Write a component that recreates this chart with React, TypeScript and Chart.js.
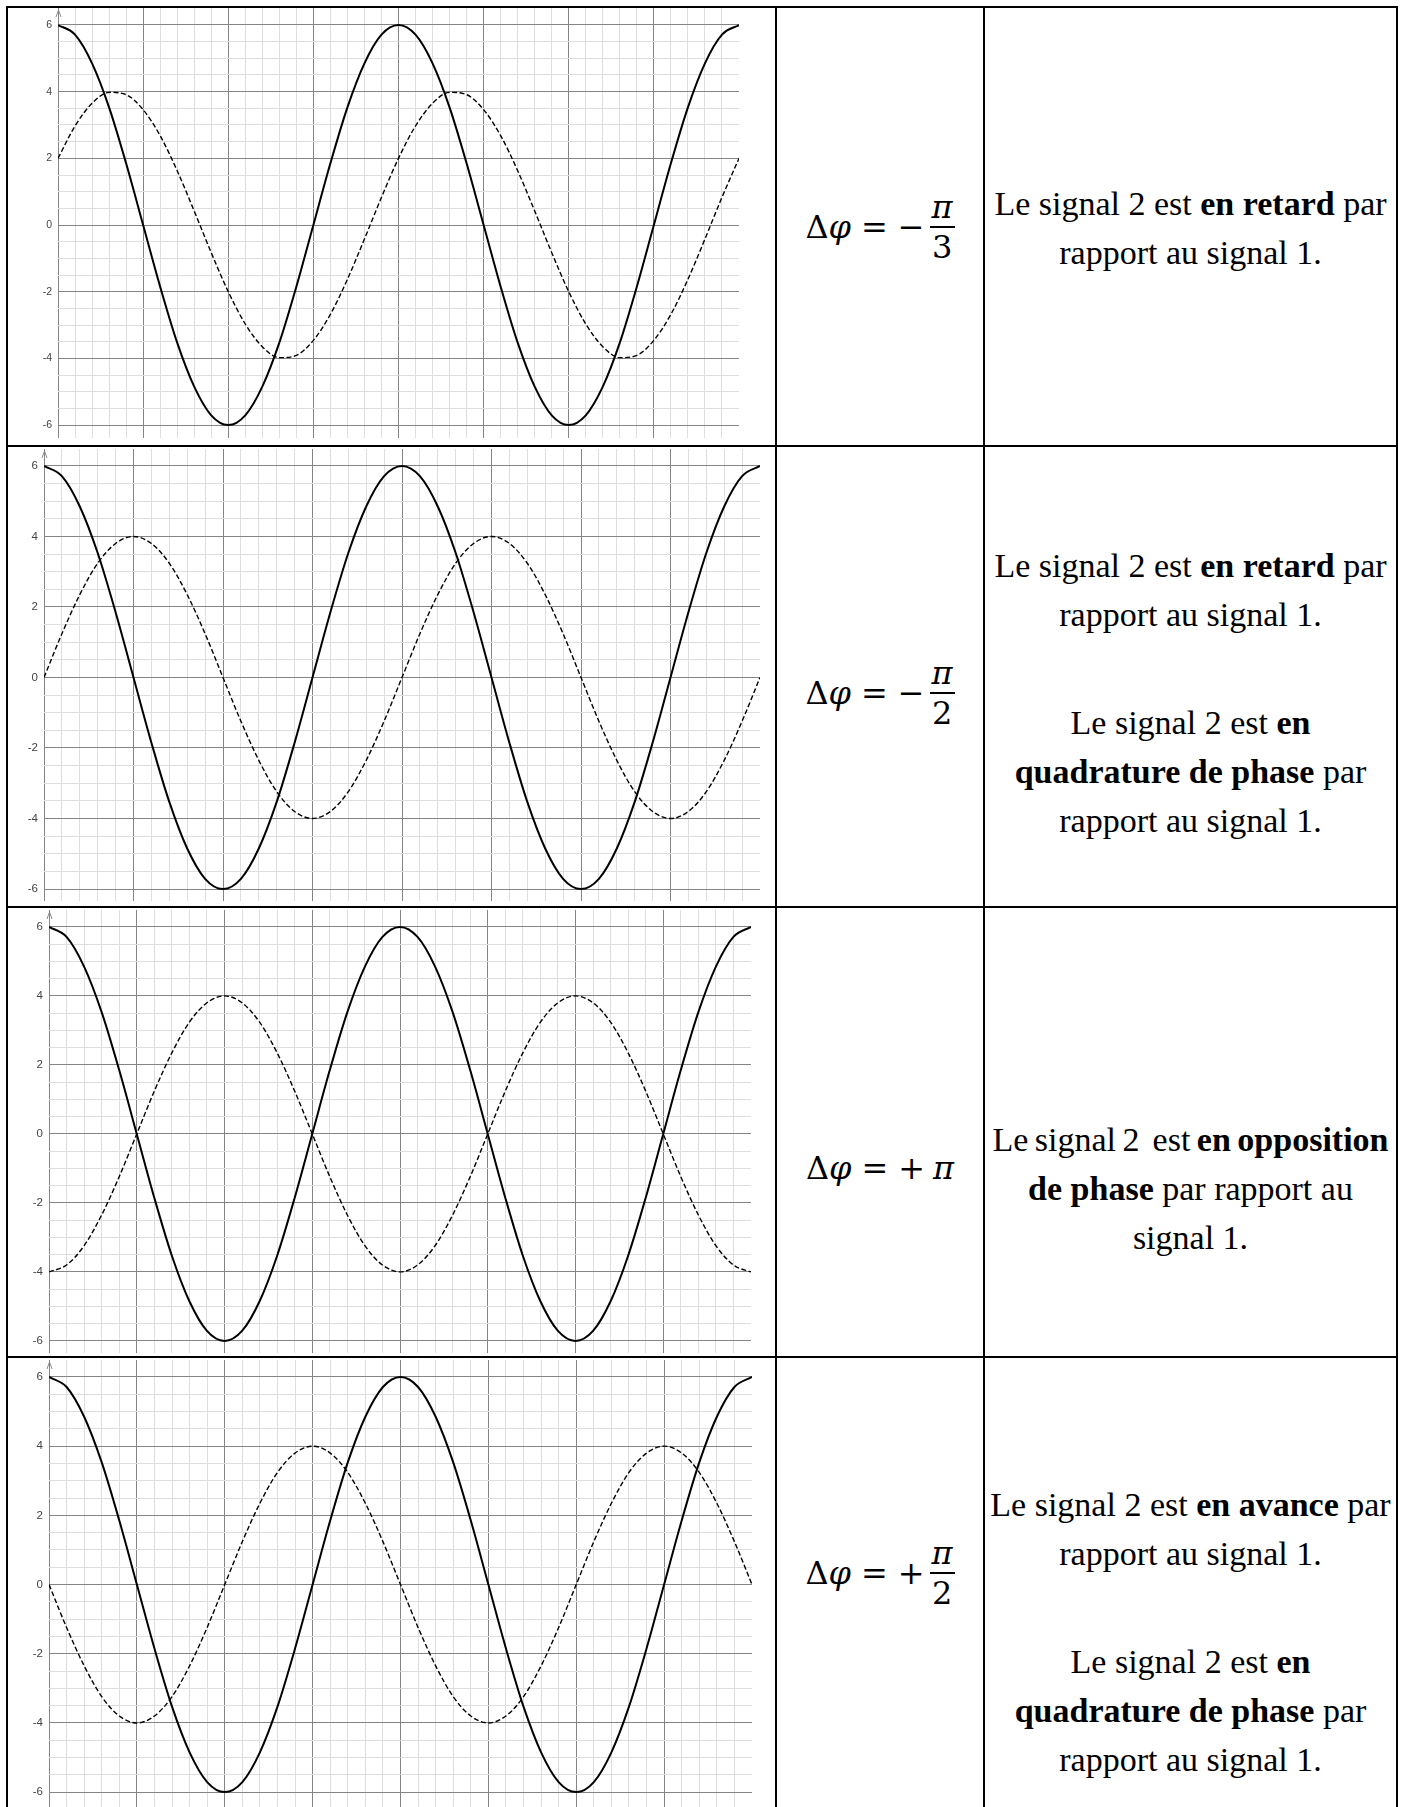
import React, { useEffect, useRef } from "react";
import { Chart, registerables } from "chart.js";

Chart.register(...registerables);

// Time axis samples (one period = 4 units, two periods shown)
const xSamples = [
  0, 0.2, 0.4, 0.6, 0.8, 1, 1.2, 1.4, 1.6, 1.8, 2, 2.2, 2.4, 2.6, 2.8, 3, 3.2, 3.4, 3.6, 3.8,
  4, 4.2, 4.4, 4.6, 4.8, 5, 5.2, 5.4, 5.6, 5.8, 6, 6.2, 6.4, 6.6, 6.8, 7, 7.2, 7.4, 7.6, 7.8, 8,
];

// Signal 1 (reference signal, amplitude 6)
const signal1 = [
  6, 5.71, 4.85, 3.53, 1.85, 0, -1.85, -3.53, -4.85, -5.71, -6, -5.71, -4.85, -3.53, -1.85, 0, 1.85, 3.53, 4.85, 5.71,
  6, 5.71, 4.85, 3.53, 1.85, 0, -1.85, -3.53, -4.85, -5.71, -6, -5.71, -4.85, -3.53, -1.85, 0, 1.85, 3.53, 4.85, 5.71, 6,
];

// Signal 2 (amplitude 4) for each phase difference
const signal2Retard60 = [
  2, 2.97, 3.65, 3.98, 3.91, 3.46, 2.68, 1.63, 0.42, -0.83, -2, -2.97, -3.65, -3.98, -3.91, -3.46, -2.68, -1.63, -0.42, 0.83,
  2, 2.97, 3.65, 3.98, 3.91, 3.46, 2.68, 1.63, 0.42, -0.83, -2, -2.97, -3.65, -3.98, -3.91, -3.46, -2.68, -1.63, -0.42, 0.83, 2,
];
const signal2Retard90 = [
  0, 1.24, 2.35, 3.24, 3.8, 4, 3.8, 3.24, 2.35, 1.24, 0, -1.24, -2.35, -3.24, -3.8, -4, -3.8, -3.24, -2.35, -1.24,
  0, 1.24, 2.35, 3.24, 3.8, 4, 3.8, 3.24, 2.35, 1.24, 0, -1.24, -2.35, -3.24, -3.8, -4, -3.8, -3.24, -2.35, -1.24, 0,
];
const signal2Opposition = [
  -4, -3.8, -3.24, -2.35, -1.24, 0, 1.24, 2.35, 3.24, 3.8, 4, 3.8, 3.24, 2.35, 1.24, 0, -1.24, -2.35, -3.24, -3.8,
  -4, -3.8, -3.24, -2.35, -1.24, 0, 1.24, 2.35, 3.24, 3.8, 4, 3.8, 3.24, 2.35, 1.24, 0, -1.24, -2.35, -3.24, -3.8, -4,
];
const signal2Avance90 = [
  0, -1.24, -2.35, -3.24, -3.8, -4, -3.8, -3.24, -2.35, -1.24, 0, 1.24, 2.35, 3.24, 3.8, 4, 3.8, 3.24, 2.35, 1.24,
  0, -1.24, -2.35, -3.24, -3.8, -4, -3.8, -3.24, -2.35, -1.24, 0, 1.24, 2.35, 3.24, 3.8, 4, 3.8, 3.24, 2.35, 1.24, 0,
];

// Horizontal grid every 0.5, labels on even values
const yGridValues = [
  -6, -5.5, -5, -4.5, -4, -3.5, -3, -2.5, -2, -1.5, -1, -0.5, 0, 0.5, 1, 1.5, 2, 2.5, 3, 3.5, 4, 4.5, 5, 5.5, 6,
];
const yTickLabels = [-6, -4, -2, 0, 2, 4, 6];

const MAJOR = "#858585";
const MINOR = "#dedede";

type Frame = {
  left: number;
  top: number;
  width: number;
  height: number;
  axisWidth: number;
  yMin: number;
  yMax: number;
  labelSize: number;
};

// Placement of the four oscilloscope panels
const frames: Frame[] = [
  { left: 20, top: 8, width: 719, height: 430, axisWidth: 38, yMin: -6.39, yMax: 6.51, labelSize: 10.5 },
  { left: 10, top: 449, width: 750, height: 452, axisWidth: 34, yMin: -6.34, yMax: 6.48, labelSize: 11.5 },
  { left: 12, top: 910, width: 739, height: 443, axisWidth: 37, yMin: -6.35, yMax: 6.49, labelSize: 11.5 },
  { left: 12, top: 1360, width: 740, height: 447, axisWidth: 37, yMin: -6.43, yMax: 6.49, labelSize: 11.5 },
];
const panelSeries = [signal2Retard60, signal2Retard90, signal2Opposition, signal2Avance90];

const isWhole = (v: number) => Math.abs(v - Math.round(v)) < 1e-6;

// Small arrow head on top of the vertical axis
const axisArrow = {
  id: "axisArrow",
  afterDatasetsDraw(chart: any) {
    const { ctx, chartArea, scales } = chart;
    const x = Math.round(scales.x.getPixelForValue(0)) + 0.5;
    const top = chartArea.top + 2;
    ctx.save();
    ctx.strokeStyle = "#8a8a8a";
    ctx.lineWidth = 1;
    ctx.beginPath();
    ctx.moveTo(x - 2.5, top + 7);
    ctx.lineTo(x, top);
    ctx.lineTo(x + 2.5, top + 7);
    ctx.stroke();
    ctx.restore();
  },
};

function WavePanel({ frame, series2 }: { frame: Frame; series2: number[] }) {
  const ref = useRef<HTMLCanvasElement | null>(null);

  useEffect(() => {
    const canvas = ref.current;
    if (!canvas) return;
    const chart = new Chart(canvas, {
      type: "line",
      data: {
        datasets: [
          {
            label: "signal 1",
            data: xSamples.map((x, i) => ({ x, y: signal1[i] })),
            borderColor: "#000",
            borderWidth: 2,
            pointRadius: 0,
            cubicInterpolationMode: "monotone",
            fill: false,
          },
          {
            label: "signal 2",
            data: xSamples.map((x, i) => ({ x, y: series2[i] })),
            borderColor: "#000",
            borderWidth: 1.4,
            borderDash: [5, 2.5],
            pointRadius: 0,
            cubicInterpolationMode: "monotone",
            fill: false,
          },
        ],
      },
      options: {
        responsive: true,
        maintainAspectRatio: false,
        animation: false,
        events: [],
        layout: { padding: 0 },
        plugins: { legend: { display: false }, tooltip: { enabled: false } },
        scales: {
          x: {
            type: "linear",
            min: 0,
            max: 8,
            ticks: { stepSize: 0.2, display: false, autoSkip: false },
            grid: {
              drawTicks: false,
              lineWidth: 1,
              color: (c: any) => (c.tick && isWhole(c.tick.value) ? MAJOR : MINOR),
            },
            border: { display: false },
            afterFit: (s: any) => {
              s.height = 0;
              s.paddingLeft = 0;
              s.paddingRight = 0;
            },
          },
          y: {
            type: "linear",
            min: frame.yMin,
            max: frame.yMax,
            bounds: "data",
            afterBuildTicks: (s: any) => {
              s.ticks = yGridValues.map((v) => ({ value: v }));
            },
            ticks: {
              autoSkip: false,
              padding: 6,
              color: "#444",
              font: { family: '"Liberation Sans", Arial, sans-serif', size: frame.labelSize },
              callback: (v: any) => (yTickLabels.includes(Number(v)) ? String(v) : ""),
            },
            grid: {
              drawTicks: false,
              lineWidth: 1,
              color: (c: any) =>
                c.tick && isWhole(c.tick.value) && Math.round(c.tick.value) % 2 === 0 ? MAJOR : MINOR,
            },
            border: { display: false },
            afterFit: (s: any) => {
              s.width = frame.axisWidth;
              s.paddingTop = 0;
              s.paddingBottom = 0;
            },
          },
        },
      },
      plugins: [axisArrow],
    } as any);
    return () => chart.destroy();
  }, [frame, series2]);

  return (
    <div
      style={{
        position: "absolute",
        left: frame.left,
        top: frame.top,
        width: frame.width,
        height: frame.height,
      }}
    >
      <canvas ref={ref} />
    </div>
  );
}

const mathFont = '"DejaVu Serif", serif';
const textFont = '"Liberation Serif", "Times New Roman", serif';

function Fraction({ num, den }: { num: string; den: string }) {
  return (
    <span
      style={{
        display: "inline-flex",
        flexDirection: "column",
        alignItems: "center",
        lineHeight: "38px",
        marginLeft: 5,
      }}
    >
      <span style={{ fontStyle: "italic", padding: "0 2px" }}>{num}</span>
      <span style={{ borderTop: "2px solid #000", alignSelf: "stretch", minWidth: 24 }} />
      <span style={{ padding: "0 2px" }}>{den}</span>
    </span>
  );
}

function Formula({ top, height, sign, num, den }: { top: number; height: number; sign: string; num: string; den?: string }) {
  return (
    <div
      style={{
        position: "absolute",
        left: 777,
        width: 206,
        top,
        height,
        display: "flex",
        alignItems: "center",
        justifyContent: "center",
        fontFamily: mathFont,
        fontSize: 32,
        color: "#000",
        whiteSpace: "pre",
      }}
    >
      <span>
        Δ<span style={{ fontStyle: "italic" }}>φ</span>
      </span>
      <span style={{ margin: "0 10px" }}>=</span>
      <span>{sign}</span>
      {den ? (
        <Fraction num={num} den={den} />
      ) : (
        <span style={{ fontStyle: "italic", marginLeft: 8 }}>{num}</span>
      )}
    </div>
  );
}

function TextCell({ top, height, children }: { top: number; height: number; children: React.ReactNode }) {
  return (
    <div
      style={{
        position: "absolute",
        left: 985,
        width: 411,
        top,
        height,
        display: "flex",
        flexDirection: "column",
        justifyContent: "center",
        alignItems: "center",
        textAlign: "center",
        fontFamily: textFont,
        fontSize: 34,
        lineHeight: "49px",
        color: "#000",
      }}
    >
      {children}
    </div>
  );
}

const Line = ({ children, tight = false }: { children: React.ReactNode; tight?: boolean }) => (
  <div style={{ whiteSpace: "pre", wordSpacing: tight ? "-2px" : undefined }}>{children}</div>
);
const Gap = () => <div style={{ height: 59 }} />;

function Rule({ x, y, w, h }: { x: number; y: number; w: number; h: number }) {
  return <div style={{ position: "absolute", left: x, top: y, width: w, height: h, background: "#000" }} />;
}

export default function App() {
  return (
    <div
      style={{
        position: "absolute",
        left: 0,
        top: 0,
        width: 1404,
        height: 1807,
        overflow: "hidden",
        background: "#fff",
      }}
    >
      {frames.map((f, i) => (
        <WavePanel key={i} frame={f} series2={panelSeries[i]} />
      ))}

      {/* table rules */}
      <Rule x={6} y={6} w={1392} h={2} />
      <Rule x={6} y={445} w={1392} h={2} />
      <Rule x={6} y={906} w={1392} h={2} />
      <Rule x={6} y={1356} w={1392} h={2} />
      <Rule x={6} y={6} w={2} h={1801} />
      <Rule x={775} y={6} w={2} h={1801} />
      <Rule x={983} y={6} w={2} h={1801} />
      <Rule x={1396} y={6} w={2} h={1801} />

      <Formula top={8} height={438} sign="−" num="π" den="3" />
      <TextCell top={8} height={440}>
        <Line>
          Le signal 2 est <b>en retard</b> par
        </Line>
        <Line>rapport au signal 1.</Line>
      </TextCell>

      <Formula top={447} height={492} sign="−" num="π" den="2" />
      <TextCell top={447} height={492}>
        <Line>
          Le signal 2 est <b>en retard</b> par
        </Line>
        <Line>rapport au signal 1.</Line>
        <Gap />
        <Line>
          Le signal 2 est <b>en</b>
        </Line>
        <Line>
          <b>quadrature de phase</b> par
        </Line>
        <Line>rapport au signal 1.</Line>
      </TextCell>

      <Formula top={908} height={520} sign="+" num="π" />
      <TextCell top={908} height={560}>
        <Line tight>
          Le signal 2  est <b>en opposition</b>
        </Line>
        <Line>
          <b>de phase</b> par rapport au
        </Line>
        <Line>signal 1.</Line>
      </TextCell>

      <Formula top={1358} height={430} sign="+" num="π" den="2" />
      <TextCell top={1358} height={548}>
        <Line>
          Le signal 2 est <b>en avance</b> par
        </Line>
        <Line>rapport au signal 1.</Line>
        <Gap />
        <Line>
          Le signal 2 est <b>en</b>
        </Line>
        <Line>
          <b>quadrature de phase</b> par
        </Line>
        <Line>rapport au signal 1.</Line>
      </TextCell>
    </div>
  );
}
